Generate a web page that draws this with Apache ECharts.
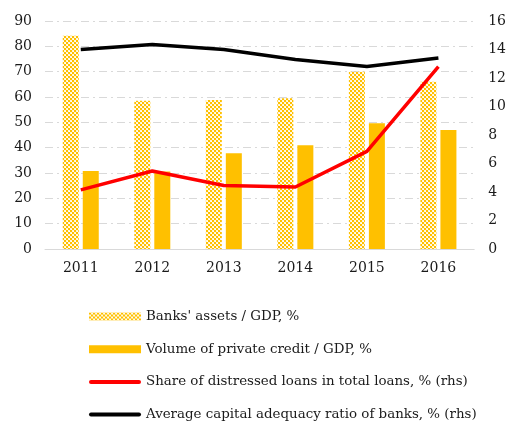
<!DOCTYPE html>
<html><head><meta charset="utf-8">
<script src="https://cdn.jsdelivr.net/npm/echarts@6/dist/echarts.min.js"></script>
<style>html,body{margin:0;padding:0;background:#fff}#c{width:509px;height:423px}</style>
</head><body><div id="c"></div>
<script>
const categories = ['2011','2012','2013','2014','2015','2016'];
const banksAssets = [84.2, 58.5, 58.8, 59.5, 70, 66];
const privateCredit = [30.8, 30.6, 37.8, 41, 49.6, 47];
const distressedLoans = [4.15, 5.47, 4.45, 4.35, 6.85, 12.8];
const capitalAdequacy = [14.0, 14.35, 14.0, 13.3, 12.8, 13.4];
const leftTicks = {min: 0, max: 90, interval: 10};
const rightTicks = {min: 0, max: 16, interval: 2};

function makePattern(){
  const c = document.createElement('canvas');
  c.width = 4; c.height = 4;
  const g = c.getContext('2d');
  g.fillStyle = '#FFC000'; g.fillRect(0,0,4,4);
  g.fillStyle = '#FFF6DA';
  g.fillRect(2,0,2,2); g.fillRect(0,2,2,2);
  g.fillStyle = '#FFFFFF';
  g.fillRect(3,1,1,1); g.fillRect(1,3,1,1);
  return {image: c, repeat: 'repeat'};
}
const font = 'DejaVu Serif';
const lineIcon = 'path://M2,0 L50,0 A2,2 0 0 1 50,4 L2,4 A2,2 0 0 1 2,0 Z';
const chart = echarts.init(document.getElementById('c'), null, {renderer: 'canvas'});
chart.setOption({
  animation: false,
  textStyle: {fontFamily: font},
  grid: {left: 45, right: 34, top: 21, bottom: 174},
  legend: {
    orient: 'vertical', left: 89, top: 310, padding: 0, itemWidth: 52, itemHeight: 8, itemGap: 19.7,
    textStyle: {fontFamily: font, fontSize: 13.4, color: '#1a1a1a'},
    data: [
      {name: "Banks' assets / GDP, %", icon: 'rect'},
      {name: 'Volume of private credit / GDP, %', icon: 'rect'},
      {name: 'Share of distressed loans in total loans, % (rhs)', icon: lineIcon},
      {name: 'Average capital adequacy ratio of banks, % (rhs)', icon: lineIcon}
    ]
  },
  xAxis: {
    type: 'category', data: categories,
    axisLine: {lineStyle: {color: '#D9D9D9', width: 1}},
    axisTick: {show: false},
    axisLabel: {fontFamily: font, fontSize: 14, color: '#1a1a1a', margin: 12}
  },
  yAxis: [
    {type: 'value', min: leftTicks.min, max: leftTicks.max, interval: leftTicks.interval,
     axisLine: {show: false}, axisTick: {show: false},
     axisLabel: {fontFamily: font, fontSize: 14, color: '#1a1a1a', margin: 13},
     splitLine: {lineStyle: {color: '#D9D9D9', width: 1, type: [8, 4, 2, 4]}}},
    {type: 'value', min: rightTicks.min, max: rightTicks.max, interval: rightTicks.interval,
     axisLine: {show: false}, axisTick: {show: false},
     axisLabel: {fontFamily: font, fontSize: 14, color: '#1a1a1a', margin: 14},
     splitLine: {show: false}}
  ],
  series: [
    {name: "Banks' assets / GDP, %", type: 'bar', data: banksAssets, barWidth: 16, barGap: '25%',
     itemStyle: {color: makePattern()}},
    {name: 'Volume of private credit / GDP, %', type: 'bar', data: privateCredit, barWidth: 16,
     itemStyle: {color: '#FFC000'}},
    {name: 'Share of distressed loans in total loans, % (rhs)', type: 'line', yAxisIndex: 1,
     data: distressedLoans, symbol: 'none', lineStyle: {color: '#FF0000', width: 3.5}, itemStyle: {color: '#FF0000'}},
    {name: 'Average capital adequacy ratio of banks, % (rhs)', type: 'line', yAxisIndex: 1,
     data: capitalAdequacy, symbol: 'none', lineStyle: {color: '#000000', width: 3.5}, itemStyle: {color: '#000000'}}
  ]
});
</script></body></html>
